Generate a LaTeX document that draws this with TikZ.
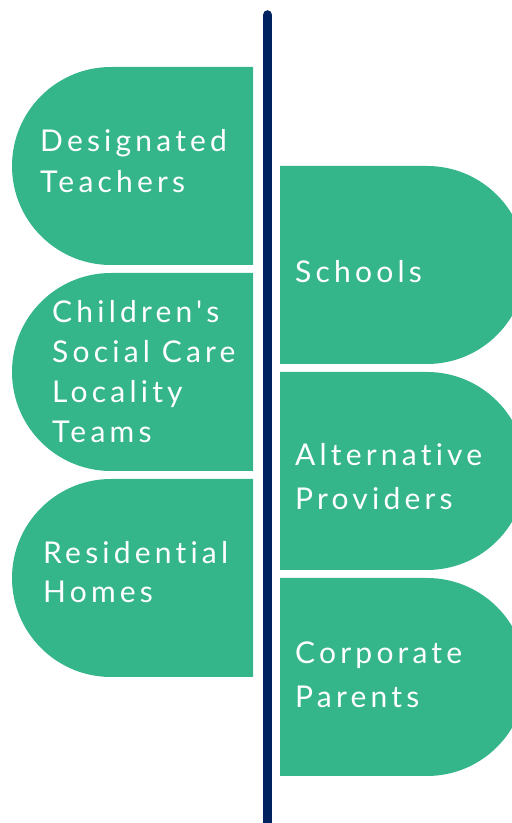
\documentclass[tikz,border=0pt]{standalone}
\usepackage{fontspec}
\setmainfont{Lato}[LetterSpace=14,Ligatures={TeXOff,CommonOff}]
\definecolor{leaf}{RGB}{52,181,138}
\definecolor{navy}{RGB}{0,35,95}

\begin{document}
\begin{tikzpicture}[x=1pt,y=1pt]
    \tikzstyle{tag}=[anchor=base west,inner sep=0pt,align=left,text=white,font=\fontsize{30}{40}\selectfont]
    \tikzstyle{tagwide}=[tag,font=\fontsize{30}{44}\selectfont]
    \clip (0,0) rectangle (512,823);
    % left tabs, round side facing out
    \foreach \c in {657,451,245}
        \fill [leaf] (253,\c+99) -- (111,\c+99) arc[start angle=90,end angle=270,radius=99] -- (253,\c-99) -- cycle;
    % right tabs
    \foreach \c in {558,352,146}
        \fill [leaf] (280,\c+99) -- (427,\c+99) arc[start angle=90,end angle=-90,radius=99] -- (280,\c-99) -- cycle;
    % spine
    \coordinate (top) at (267.5,808);
    \coordinate (bottom) at (267.5,-10);
    \draw [navy,line width=9.5pt,line cap=round] (top) -- (bottom);
    % labels, placed at the baseline of their last line
    \node (teachers) at (40,630) [tag,font=\fontsize{30}{41}\selectfont] {Designated\\Teachers};
    \node (locality) at (52,380) [tag] {Children's\\Social Care\\Locality\\Teams};
    \node (homes) at (43,220) [tag,font=\fontsize{30}{39}\selectfont] {Residential\\Homes};
    \node (schools) at (295,540) [tagwide] {Schools};
    \node (providers) at (295,313) [tagwide] {Alternative\\Providers};
    \node (parents) at (295,115) [tagwide] {Corporate\\Parents};
\end{tikzpicture}
\end{document}
